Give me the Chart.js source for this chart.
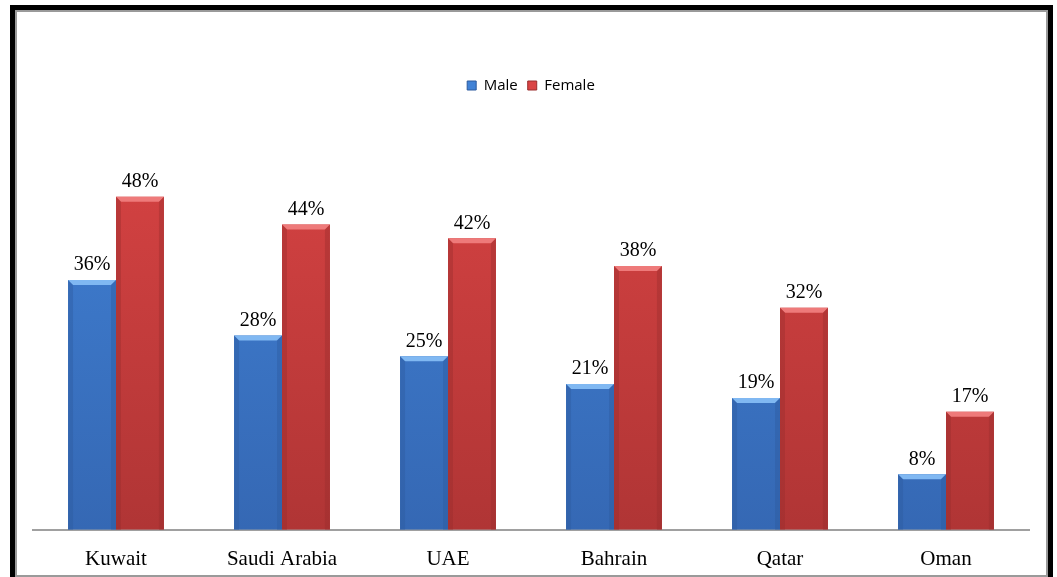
<!DOCTYPE html>
<html>
<head>
<meta charset="utf-8">
<script src="https://cdn.jsdelivr.net/npm/chart.js@4.4.1/dist/chart.umd.min.js"></script>
<style>
  html, body { margin: 0; padding: 0; background: #fff; overflow: hidden; }
  .frame-outer { position: absolute; left: 10px; top: 5px; width: 1043px; height: 600px; background: #000; }
  .frame-inner { position: absolute; left: 15px; top: 10px; width: 1033px; height: 567px; background: #fff;
                 border: 2px solid #9a9a9a; box-sizing: border-box; }
  .wrap { position: absolute; left: 0; top: 0; width: 1057px; height: 596px; }
</style>
</head>
<body>
<div class="frame-outer"></div>
<div class="frame-inner"></div>
<div class="wrap"><canvas id="chart"></canvas></div>
<script>
const countries = ['Kuwait', 'Saudi Arabia', 'UAE', 'Bahrain', 'Qatar', 'Oman'];
const male = [36, 28, 25, 21, 19, 8];
const female = [48, 44, 42, 38, 32, 17];

const palette = {
  Male: { top: '#80b8f2', body: '#4182d6', bottom: '#3568b4', edge: '#2c5a9e' },
  Female: { top: '#ee7a7a', body: '#da4444', bottom: '#b03535', edge: '#992c2c' }
};

const barFill = (name) => (ctx) => {
  const area = ctx.chart.chartArea;
  if (!area) return palette[name].body;
  const g = ctx.chart.ctx.createLinearGradient(0, area.top, 0, area.bottom);
  g.addColorStop(0, palette[name].body);
  g.addColorStop(1, palette[name].bottom);
  return g;
};

// lighter bevel on the top of each bar, darker sides
const bevel = {
  id: 'bevel',
  afterDatasetsDraw(chart) {
    const c = chart.ctx;
    chart.data.datasets.forEach((ds, i) => {
      const col = palette[ds.label];
      chart.getDatasetMeta(i).data.forEach((bar) => {
        const { x, y, base, width } = bar.getProps(['x', 'y', 'base', 'width'], true);
        const l = x - width / 2, r = x + width / 2, b = 5;
        c.save();
        c.fillStyle = col.top;
        c.beginPath();
        c.moveTo(l, y); c.lineTo(r, y); c.lineTo(r - b, y + b); c.lineTo(l + b, y + b);
        c.closePath(); c.fill();
        c.globalAlpha = 0.4;
        c.fillStyle = col.edge;
        c.beginPath();
        c.moveTo(l, y); c.lineTo(l + b, y + b); c.lineTo(l + b, base); c.lineTo(l, base);
        c.closePath(); c.fill();
        c.beginPath();
        c.moveTo(r, y); c.lineTo(r - b, y + b); c.lineTo(r - b, base); c.lineTo(r, base);
        c.closePath(); c.fill();
        c.restore();
      });
    });
  }
};

const valueLabels = {
  id: 'valueLabels',
  afterDatasetsDraw(chart) {
    const c = chart.ctx;
    c.save();
    c.font = '20px "Liberation Serif", "Times New Roman", serif';
    c.fillStyle = '#000';
    c.textAlign = 'center';
    c.textBaseline = 'bottom';
    chart.data.datasets.forEach((ds, i) => {
      chart.getDatasetMeta(i).data.forEach((bar, j) => {
        c.fillText(ds.data[j] + '%', bar.x, bar.y - 5);
      });
    });
    c.restore();
  }
};

new Chart(document.getElementById('chart'), {
  type: 'bar',
  data: {
    labels: countries,
    datasets: [
      { label: 'Male', data: male, backgroundColor: barFill('Male') },
      { label: 'Female', data: female, backgroundColor: barFill('Female') }
    ]
  },
  options: {
    responsive: true,
    maintainAspectRatio: false,
    animation: false,
    categoryPercentage: 0.578,
    barPercentage: 1,
    layout: { padding: { left: 33, right: 28, top: 68, bottom: 7 } },
    plugins: {
      legend: {
        position: 'top',
        labels: {
          boxWidth: 9, boxHeight: 9, padding: 10, color: '#000',
          font: { family: '"Open Sans", "Liberation Sans", sans-serif', size: 15 },
          generateLabels: (chart) => chart.data.datasets.map((ds, i) => ({
            text: ds.label, fillStyle: palette[ds.label].body, strokeStyle: palette[ds.label].edge,
            lineWidth: 1, datasetIndex: i
          }))
        }
      },
      tooltip: { enabled: false }
    },
    scales: {
      x: {
        grid: { display: false, drawTicks: false },
        border: { color: '#a0a0a0', width: 2 },
        ticks: {
          padding: 17, color: '#000',
          font: { family: '"Liberation Serif", "Times New Roman", serif', size: 21 }
        }
      },
      y: { display: false, min: 0, max: 61.5 }
    }
  },
  plugins: [bevel, valueLabels]
});
</script>
</body>
</html>
